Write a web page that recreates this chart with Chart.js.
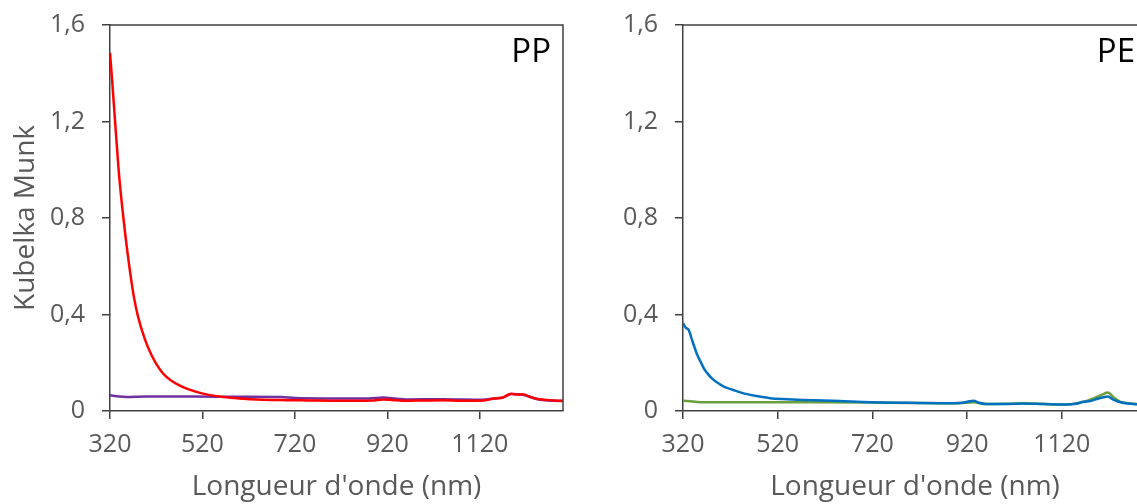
<!DOCTYPE html>
<html>
<head>
<meta charset="utf-8">
<script src="https://cdn.jsdelivr.net/npm/chart.js@4/dist/chart.umd.min.js"></script>
<style>
  html, body { margin: 0; padding: 0; background: #fff; overflow: hidden; width: 1137px; height: 504px; }
  canvas { position: absolute; top: 0; }
  #pp { left: 0; }
  #pe { left: 570px; }
</style>
</head>
<body>
<canvas id="pp" width="570" height="504"></canvas>
<canvas id="pe" width="584" height="504"></canvas>
<script>
// tick labels
const xTicks = [320, 520, 720, 920, 1120]
const yTicks = [0, 0.4, 0.8, 1.2, 1.6]

// PP panel
const ppRedNm = [320, 325, 331, 340, 349, 357, 365, 372, 380, 395, 410, 432, 457, 486, 529, 565, 600, 650, 700, 750, 800, 850, 890, 911, 930, 960, 1000, 1040, 1080, 1130, 1150, 1170, 1188, 1200, 1213, 1230, 1245, 1270, 1300]
const ppRed   = [1.485, 1.36, 1.20, 0.97, 0.80, 0.67, 0.555, 0.47, 0.396, 0.30, 0.231, 0.162, 0.12, 0.093, 0.069, 0.058, 0.052, 0.047, 0.045, 0.044, 0.043, 0.043, 0.044, 0.048, 0.046, 0.042, 0.044, 0.045, 0.043, 0.044, 0.052, 0.056, 0.072, 0.068, 0.069, 0.058, 0.050, 0.045, 0.042]
const ppPurpleNm = [320, 340, 356, 400, 500, 600, 690, 720, 800, 880, 911, 940, 960, 1040, 1127, 1150, 1170, 1188, 1213, 1245, 1300]
const ppPurple   = [0.065, 0.060, 0.058, 0.060, 0.060, 0.059, 0.058, 0.054, 0.052, 0.052, 0.056, 0.051, 0.048, 0.049, 0.047, 0.052, 0.056, 0.070, 0.067, 0.049, 0.041]

// PE panel
const peBlueNm = [320, 326, 332, 339, 345, 350, 357, 364, 372, 381, 393, 406, 425, 448, 475, 504, 540, 574, 650, 716, 800, 880, 910, 925, 934, 945, 960, 1000, 1039, 1080, 1130, 1150, 1166, 1180, 1194, 1208, 1217, 1230, 1244, 1260, 1300]
const peBlue   = [0.364, 0.345, 0.336, 0.295, 0.26, 0.233, 0.205, 0.177, 0.155, 0.135, 0.117, 0.101, 0.088, 0.073, 0.062, 0.053, 0.049, 0.046, 0.041, 0.036, 0.034, 0.032, 0.034, 0.040, 0.042, 0.034, 0.029, 0.029, 0.031, 0.029, 0.027, 0.030, 0.038, 0.041, 0.050, 0.057, 0.060, 0.046, 0.036, 0.031, 0.026]
const peGreenNm = [320, 335, 350, 364, 450, 600, 716, 800, 900, 934, 960, 1039, 1130, 1166, 1194, 1208, 1217, 1230, 1244, 1260, 1300]
const peGreen   = [0.043, 0.040, 0.037, 0.036, 0.036, 0.036, 0.035, 0.033, 0.032, 0.036, 0.029, 0.031, 0.027, 0.038, 0.058, 0.070, 0.077, 0.056, 0.038, 0.032, 0.026]

const pts = (xs, ys) => xs.map((x, i) => ({ x, y: ys[i] }))
const axisColor = '#404040'
const labelColor = '#595959'
const fontFamily = '"Open Sans", "Noto Sans", sans-serif'

const frame = {
    id: 'frame',
    afterDraw(chart, args, opts) {
        const { ctx, chartArea: a } = chart
        ctx.save()
        ctx.strokeStyle = axisColor
        ctx.lineWidth = 1.5
        ctx.beginPath()
        ctx.moveTo(a.left, a.top)
        ctx.lineTo(a.right, a.top)
        ctx.lineTo(a.right, a.bottom)
        ctx.stroke()
        ctx.fillStyle = '#000'
        ctx.font = '33px ' + fontFamily
        ctx.textAlign = 'right'
        ctx.textBaseline = 'top'
        ctx.fillText(opts.tag, a.right - 12, a.top + 11)
        ctx.restore()
    }
}

function series(data, color) {
    return {
        data, borderColor: color, borderWidth: 2.5, pointRadius: 0,
        fill: false, cubicInterpolationMode: 'monotone'
    }
}

function makeChart(id, tag, datasets, yWidth, yTitle, padRight) {
    return new Chart(document.getElementById(id), {
        type: 'line',
        data: { datasets },
        options: {
            responsive: false,
            animation: false,
            layout: { padding: { left: 0, top: 25, right: padRight, bottom: 0 } },
            plugins: { legend: { display: false }, tooltip: { enabled: false }, frame: { tag } },
            scales: {
                x: {
                    type: 'linear', min: 320, max: 1300,
                    afterBuildTicks: s => { s.ticks = xTicks.map(value => ({ value })) },
                    afterFit: s => { s.height = 93; s.paddingLeft = 0; s.paddingRight = 0 },
                    border: { color: axisColor, width: 1.5 },
                    grid: { drawOnChartArea: false, tickLength: 8, color: axisColor, lineWidth: 1.5 },
                    ticks: { color: labelColor, font: { family: fontFamily, size: 25 }, padding: 11, maxRotation: 0,
                             callback: v => String(v) },
                    title: { display: true, text: "Longueur d'onde (nm)", color: labelColor,
                             font: { family: fontFamily, size: 28 }, padding: { top: 0, bottom: 0 } }
                },
                y: {
                    min: 0, max: 1.6,
                    afterBuildTicks: s => { s.ticks = yTicks.map(value => ({ value })) },
                    afterFit: s => { s.width = yWidth; s.paddingTop = 0; s.paddingBottom = 0 },
                    border: { color: axisColor, width: 1.5 },
                    grid: { drawOnChartArea: false, tickLength: 8, color: axisColor, lineWidth: 1.5 },
                    ticks: { color: labelColor, font: { family: fontFamily, size: 25 }, padding: 17,
                             callback: v => v === 0 ? '0' : v.toFixed(1).replace('.', ',') },
                    title: { display: !!yTitle, text: yTitle || '', color: labelColor,
                             font: { family: fontFamily, size: 28 }, padding: { top: 9, bottom: 0 } }
                }
            }
        },
        plugins: [frame]
    })
}

makeChart('pp', 'PP', [
    series(pts(ppRedNm, ppRed), '#FF0000'),
    series(pts(ppPurpleNm, ppPurple), '#7030A0')
], 110, 'Kubelka Munk', 7)

makeChart('pe', 'PE', [
    series(pts(peBlueNm, peBlue), '#0070C0'),
    series(pts(peGreenNm, peGreen), '#6B9F3E')
], 113, null, 7)
</script>
</body>
</html>
